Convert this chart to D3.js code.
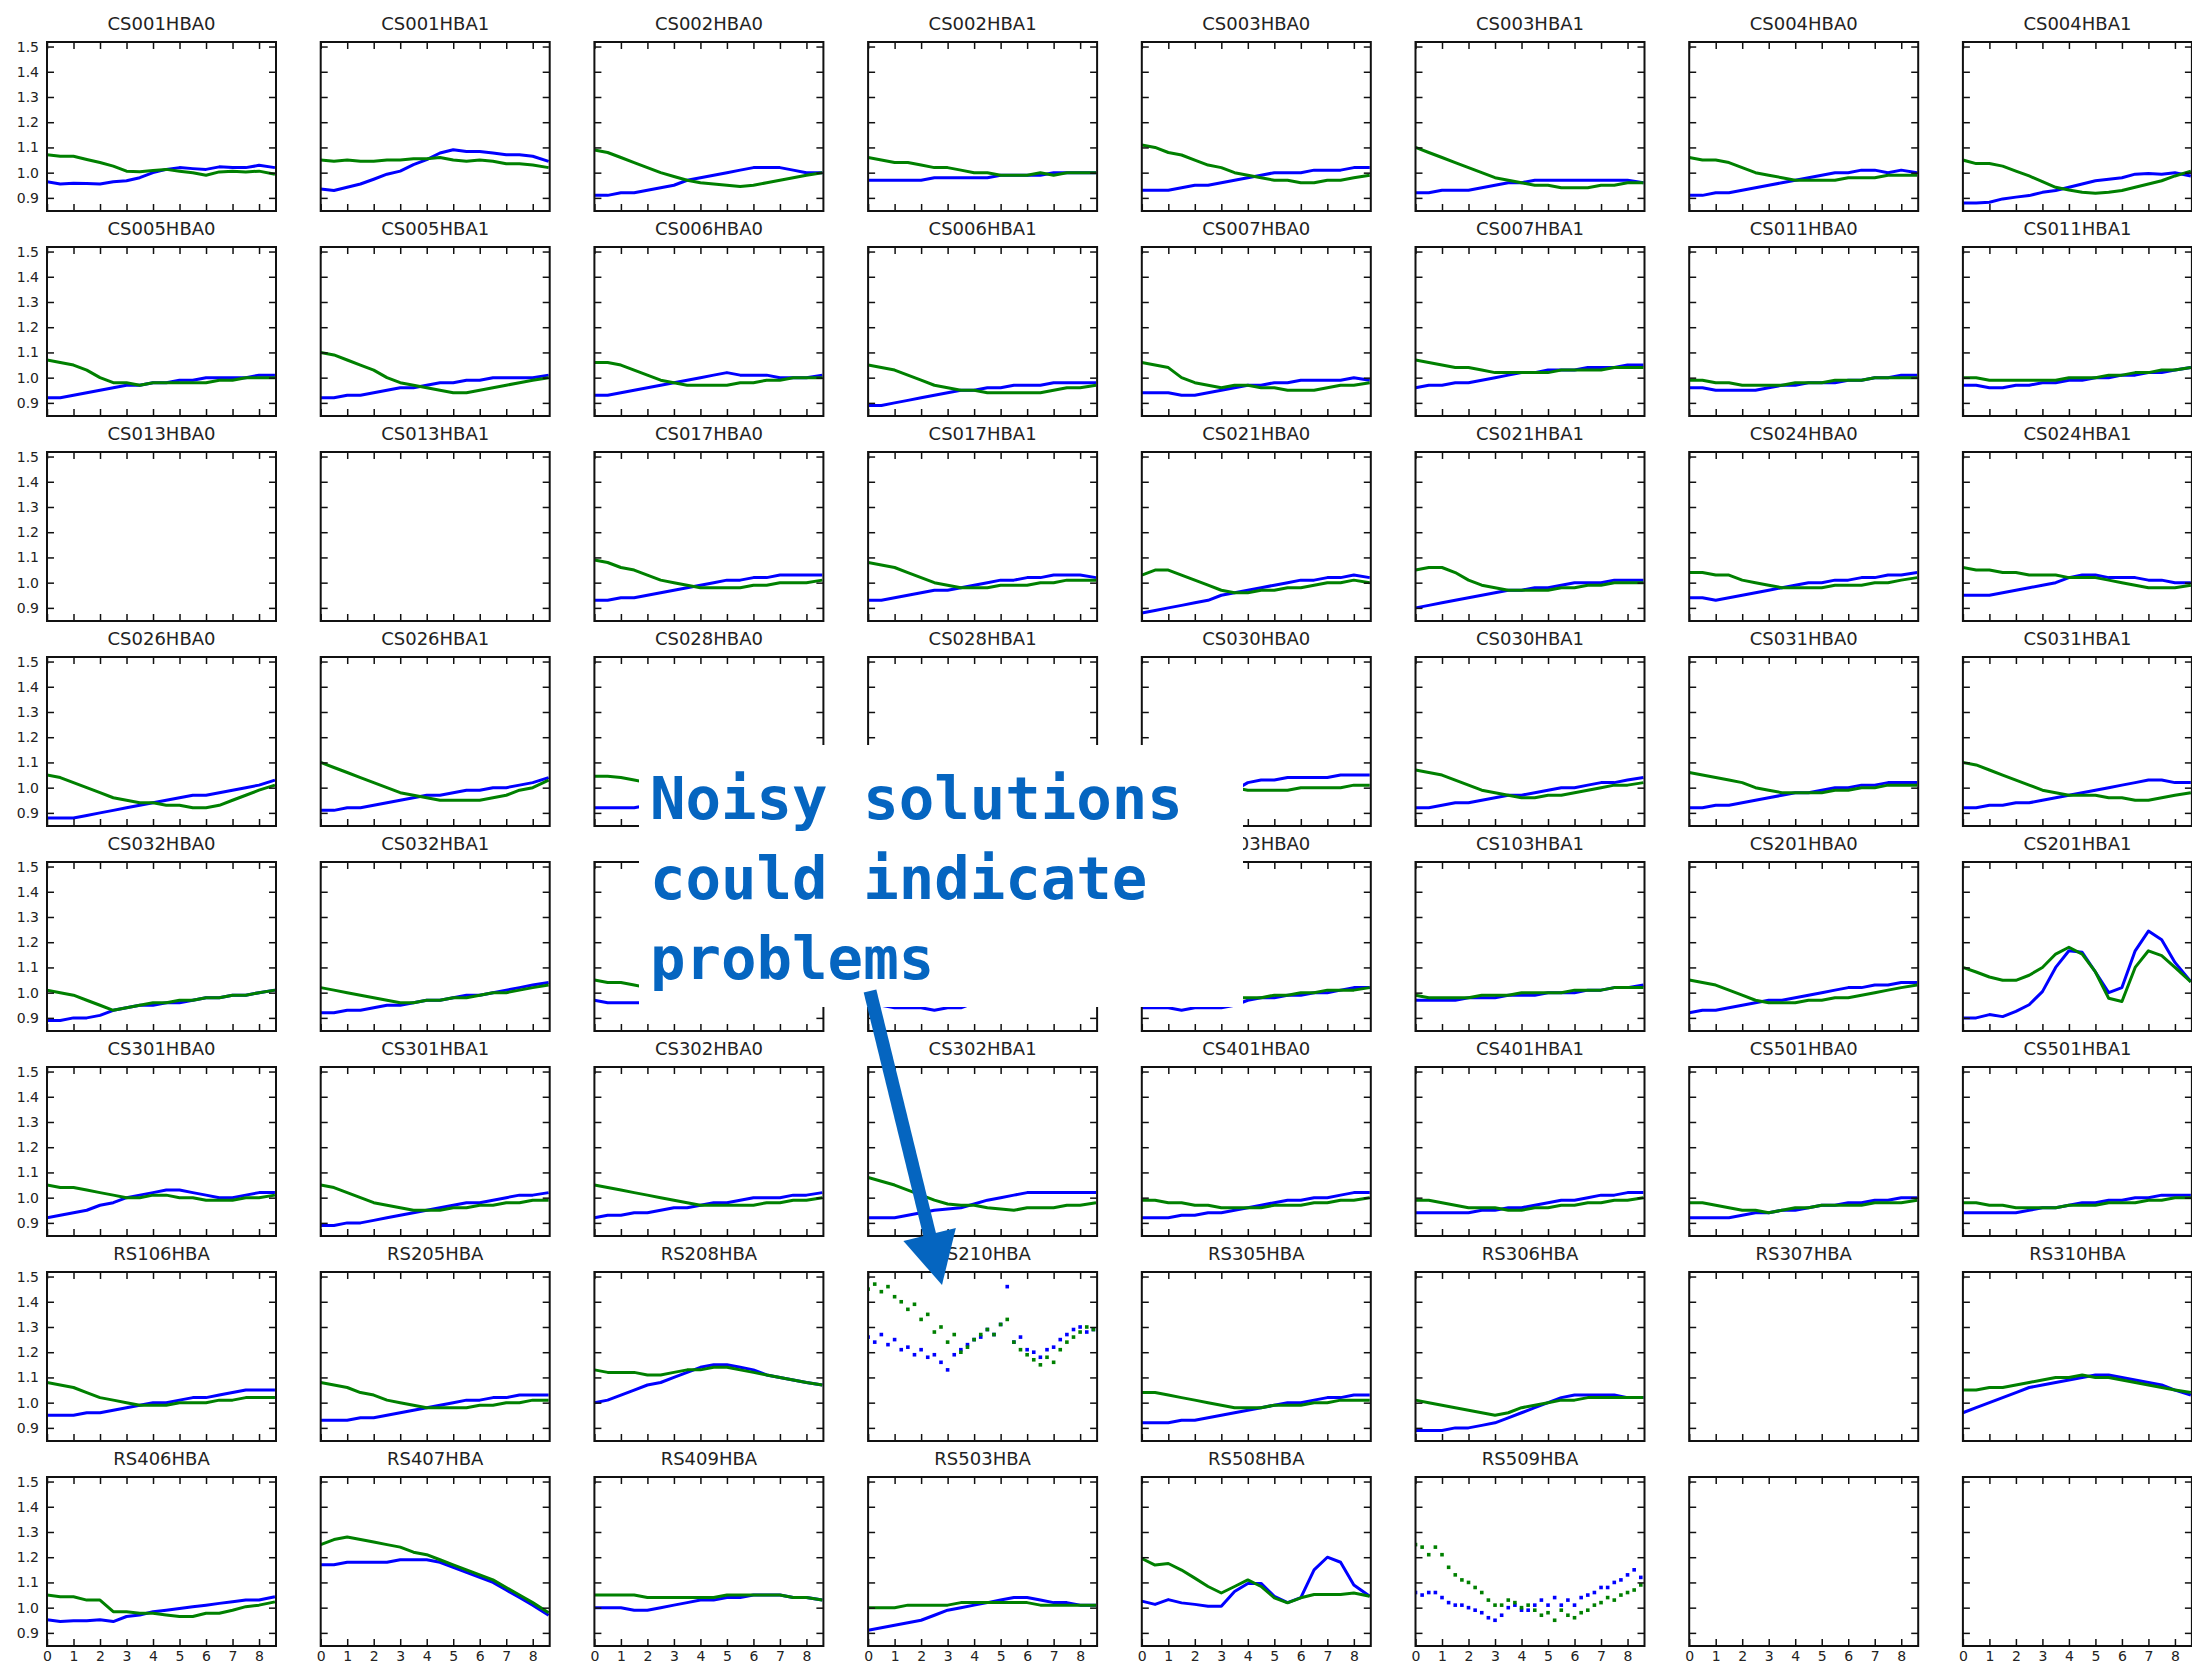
<!DOCTYPE html>
<html>
<head>
<meta charset="utf-8">
<script src="https://cdn.jsdelivr.net/npm/d3@7"></script>
<style>
  html, body { margin: 0; padding: 0; background: #fff; }
  svg { display: block; }
</style>
</head>
<body>
<svg id="chart" width="2192" height="1672"></svg>
<script>
// ---- sample times (hours) ----
const hours = [0, 0.5, 1, 1.5, 2, 2.5, 3, 3.5, 4, 4.5, 5, 5.5, 6, 6.5, 7, 7.5, 8, 8.6];
const hoursFine = [0, 0.25, 0.5, 0.75, 1, 1.25, 1.5, 1.75, 2, 2.25, 2.5, 2.75, 3, 3.25, 3.5, 3.75, 4, 4.25,
                   4.5, 4.75, 5, 5.25, 5.5, 5.75, 6, 6.25, 6.5, 6.75, 7, 7.25, 7.5, 7.75, 8, 8.25, 8.5];

// ---- tick labels ----
const xTicks = [0, 1, 2, 3, 4, 5, 6, 7, 8];
const yTicks = [0.9, 1.0, 1.1, 1.2, 1.3, 1.4, 1.5];

// ---- station layout, row by row (blank = unused slot) ----
const stationGrid = [
  "CS001HBA0", "CS001HBA1", "CS002HBA0", "CS002HBA1", "CS003HBA0", "CS003HBA1", "CS004HBA0", "CS004HBA1",
  "CS005HBA0", "CS005HBA1", "CS006HBA0", "CS006HBA1", "CS007HBA0", "CS007HBA1", "CS011HBA0", "CS011HBA1",
  "CS013HBA0", "CS013HBA1", "CS017HBA0", "CS017HBA1", "CS021HBA0", "CS021HBA1", "CS024HBA0", "CS024HBA1",
  "CS026HBA0", "CS026HBA1", "CS028HBA0", "CS028HBA1", "CS030HBA0", "CS030HBA1", "CS031HBA0", "CS031HBA1",
  "CS032HBA0", "CS032HBA1", "CS101HBA0", "CS101HBA1", "CS103HBA0", "CS103HBA1", "CS201HBA0", "CS201HBA1",
  "CS301HBA0", "CS301HBA1", "CS302HBA0", "CS302HBA1", "CS401HBA0", "CS401HBA1", "CS501HBA0", "CS501HBA1",
  "RS106HBA", "RS205HBA", "RS208HBA", "RS210HBA", "RS305HBA", "RS306HBA", "RS307HBA", "RS310HBA",
  "RS406HBA", "RS407HBA", "RS409HBA", "RS503HBA", "RS508HBA", "RS509HBA", "", ""
];

// stations whose solutions are scattered rather than smooth
const scatterStations = ["RS210HBA", "RS509HBA"];

// ---- gain amplitudes: _XX (blue) and _YY (green) ----
const CS001HBA0_XX = [0.964,0.955,0.958,0.957,0.955,0.964,0.968,0.98,1.0,1.013,1.02,1.016,1.013,1.023,1.02,1.02,1.029,1.02];
const CS001HBA0_YY = [1.071,1.065,1.065,1.052,1.04,1.026,1.006,1.004,1.009,1.013,1.006,1.0,0.99,1.003,1.006,1.003,1.006,0.994];
const CS001HBA1_XX = [0.935,0.929,0.942,0.955,0.974,0.994,1.006,1.032,1.052,1.078,1.091,1.084,1.084,1.078,1.071,1.071,1.065,1.045];
const CS001HBA1_YY = [1.05,1.045,1.05,1.045,1.045,1.05,1.05,1.055,1.055,1.06,1.05,1.045,1.05,1.045,1.035,1.035,1.03,1.02];
const CS002HBA0_XX = [0.91,0.91,0.92,0.92,0.93,0.94,0.95,0.97,0.98,0.99,1.0,1.01,1.02,1.02,1.02,1.01,1.0,1.0];
const CS002HBA0_YY = [1.09,1.08,1.06,1.04,1.02,1.0,0.985,0.97,0.96,0.955,0.95,0.945,0.95,0.96,0.97,0.98,0.99,1.0];
const CS002HBA1_XX = [0.97,0.97,0.97,0.97,0.97,0.98,0.98,0.98,0.98,0.98,0.99,0.99,0.99,0.99,1.0,1.0,1.0,1.0];
const CS002HBA1_YY = [1.06,1.05,1.04,1.04,1.03,1.02,1.02,1.01,1.0,1.0,0.99,0.99,0.99,1.0,0.99,1.0,1.0,1.0];
const CS003HBA0_XX = [0.93,0.93,0.93,0.94,0.95,0.95,0.96,0.97,0.98,0.99,1.0,1.0,1.0,1.01,1.01,1.01,1.02,1.02];
const CS003HBA0_YY = [1.11,1.10,1.08,1.07,1.05,1.03,1.02,1.0,0.99,0.98,0.97,0.97,0.96,0.96,0.97,0.97,0.98,0.99];
const CS003HBA1_XX = [0.92,0.92,0.93,0.93,0.93,0.94,0.95,0.96,0.96,0.97,0.97,0.97,0.97,0.97,0.97,0.97,0.97,0.96];
const CS003HBA1_YY = [1.10,1.08,1.06,1.04,1.02,1.0,0.98,0.97,0.96,0.95,0.95,0.94,0.94,0.94,0.95,0.95,0.96,0.96];
const CS004HBA0_XX = [0.91,0.91,0.92,0.92,0.93,0.94,0.95,0.96,0.97,0.98,0.99,1.0,1.0,1.01,1.01,1.0,1.01,1.0];
const CS004HBA0_YY = [1.06,1.05,1.05,1.04,1.02,1.0,0.99,0.98,0.97,0.97,0.97,0.97,0.98,0.98,0.98,0.99,0.99,0.99];
const CS004HBA1_XX = [0.88,0.88,0.883,0.896,0.903,0.909,0.922,0.929,0.942,0.955,0.968,0.974,0.98,0.994,0.997,0.994,1.0,0.987];
const CS004HBA1_YY = [1.05,1.036,1.036,1.026,1.006,0.987,0.964,0.942,0.931,0.922,0.918,0.922,0.929,0.942,0.955,0.968,0.987,1.006];

const CS005HBA0_XX = [0.92,0.92,0.93,0.94,0.95,0.96,0.97,0.97,0.98,0.98,0.99,0.99,1.0,1.0,1.0,1.0,1.01,1.01];
const CS005HBA0_YY = [1.07,1.06,1.05,1.03,1.0,0.98,0.98,0.97,0.98,0.98,0.98,0.98,0.98,0.99,0.99,1.0,1.0,1.0];
const CS005HBA1_XX = [0.92,0.92,0.93,0.93,0.94,0.95,0.96,0.96,0.97,0.98,0.98,0.99,0.99,1.0,1.0,1.0,1.0,1.01];
const CS005HBA1_YY = [1.10,1.09,1.07,1.05,1.03,1.0,0.98,0.97,0.96,0.95,0.94,0.94,0.95,0.96,0.97,0.98,0.99,1.0];
const CS006HBA0_XX = [0.93,0.93,0.94,0.95,0.96,0.97,0.98,0.99,1.0,1.01,1.02,1.01,1.01,1.01,1.0,1.0,1.0,1.01];
const CS006HBA0_YY = [1.06,1.06,1.05,1.03,1.01,0.99,0.98,0.97,0.97,0.97,0.97,0.98,0.98,0.99,0.99,1.0,1.0,1.0];
const CS006HBA1_XX = [0.89,0.89,0.90,0.91,0.92,0.93,0.94,0.95,0.95,0.96,0.96,0.97,0.97,0.97,0.98,0.98,0.98,0.98];
const CS006HBA1_YY = [1.05,1.04,1.03,1.01,0.99,0.97,0.96,0.95,0.95,0.94,0.94,0.94,0.94,0.94,0.95,0.96,0.96,0.97];
const CS007HBA0_XX = [0.94,0.94,0.94,0.93,0.93,0.94,0.95,0.96,0.97,0.97,0.98,0.98,0.99,0.99,0.99,0.99,1.0,0.99];
const CS007HBA0_YY = [1.06,1.05,1.04,1.0,0.98,0.97,0.96,0.97,0.97,0.96,0.96,0.95,0.95,0.95,0.96,0.97,0.97,0.98];
const CS007HBA1_XX = [0.96,0.97,0.97,0.98,0.98,0.99,1.0,1.01,1.02,1.02,1.03,1.03,1.03,1.04,1.04,1.04,1.05,1.05];
const CS007HBA1_YY = [1.07,1.06,1.05,1.04,1.04,1.03,1.02,1.02,1.02,1.02,1.02,1.03,1.03,1.03,1.03,1.04,1.04,1.04];
const CS011HBA0_XX = [0.96,0.96,0.95,0.95,0.95,0.95,0.96,0.97,0.97,0.98,0.98,0.98,0.99,0.99,1.0,1.0,1.01,1.01];
const CS011HBA0_YY = [0.99,0.99,0.98,0.98,0.97,0.97,0.97,0.97,0.98,0.98,0.98,0.99,0.99,0.99,1.0,1.0,1.0,1.0];
const CS011HBA1_XX = [0.97,0.97,0.96,0.96,0.97,0.97,0.98,0.98,0.99,0.99,1.0,1.0,1.01,1.01,1.02,1.02,1.03,1.04];
const CS011HBA1_YY = [1.0,1.0,0.99,0.99,0.99,0.99,0.99,0.99,1.0,1.0,1.0,1.01,1.01,1.02,1.02,1.03,1.03,1.04];

const CS017HBA0_XX = [0.93,0.93,0.94,0.94,0.95,0.96,0.97,0.98,0.99,1.0,1.01,1.01,1.02,1.02,1.03,1.03,1.03,1.03];
const CS017HBA0_YY = [1.09,1.08,1.06,1.05,1.03,1.01,1.0,0.99,0.98,0.98,0.98,0.98,0.99,0.99,1.0,1.0,1.0,1.01];
const CS017HBA1_XX = [0.93,0.93,0.94,0.95,0.96,0.97,0.97,0.98,0.99,1.0,1.01,1.01,1.02,1.02,1.03,1.03,1.03,1.02];
const CS017HBA1_YY = [1.08,1.07,1.06,1.04,1.02,1.0,0.99,0.98,0.98,0.98,0.99,0.99,0.99,1.0,1.0,1.01,1.01,1.01];
const CS021HBA0_XX = [0.88,0.89,0.90,0.91,0.92,0.93,0.95,0.96,0.97,0.98,0.99,1.0,1.01,1.01,1.02,1.02,1.03,1.02];
const CS021HBA0_YY = [1.03,1.05,1.05,1.03,1.01,0.99,0.97,0.96,0.96,0.97,0.97,0.98,0.98,0.99,1.0,1.0,1.01,1.0];
const CS021HBA1_XX = [0.90,0.91,0.92,0.93,0.94,0.95,0.96,0.97,0.97,0.98,0.98,0.99,1.0,1.0,1.0,1.01,1.01,1.01];
const CS021HBA1_YY = [1.05,1.06,1.06,1.04,1.01,0.99,0.98,0.97,0.97,0.97,0.97,0.98,0.98,0.99,0.99,1.0,1.0,1.0];
const CS024HBA0_XX = [0.94,0.94,0.93,0.94,0.95,0.96,0.97,0.98,0.99,1.0,1.0,1.01,1.01,1.02,1.02,1.03,1.03,1.04];
const CS024HBA0_YY = [1.04,1.04,1.03,1.03,1.01,1.0,0.99,0.98,0.98,0.98,0.98,0.99,0.99,0.99,1.0,1.0,1.01,1.02];
const CS024HBA1_XX = [0.95,0.95,0.95,0.96,0.97,0.98,0.99,1.0,1.02,1.03,1.03,1.02,1.02,1.02,1.01,1.01,1.0,1.0];
const CS024HBA1_YY = [1.06,1.05,1.05,1.04,1.04,1.03,1.03,1.03,1.02,1.02,1.02,1.01,1.0,0.99,0.98,0.98,0.98,0.99];

const CS026HBA0_XX = [0.88,0.88,0.88,0.89,0.90,0.91,0.92,0.93,0.94,0.95,0.96,0.97,0.97,0.98,0.99,1.0,1.01,1.03];
const CS026HBA0_YY = [1.05,1.04,1.02,1.0,0.98,0.96,0.95,0.94,0.94,0.93,0.93,0.92,0.92,0.93,0.95,0.97,0.99,1.01];
const CS026HBA1_XX = [0.91,0.91,0.92,0.92,0.93,0.94,0.95,0.96,0.97,0.97,0.98,0.99,0.99,1.0,1.0,1.01,1.02,1.04];
const CS026HBA1_YY = [1.10,1.08,1.06,1.04,1.02,1.0,0.98,0.97,0.96,0.95,0.95,0.95,0.95,0.96,0.97,0.99,1.0,1.03];
const CS028HBA0_XX = [0.92,0.92,0.92,0.92,0.93,0.94,0.95,0.96,0.97,0.98,0.99,0.99,1.0,1.0,1.01,1.01,1.02,1.02];
const CS028HBA0_YY = [1.045,1.045,1.04,1.03,1.02,1.0,0.99,0.98,0.98,0.98,0.98,0.99,0.99,1.0,1.0,1.0,1.01,1.01];
const CS028HBA1_XX = [0.92,0.92,0.93,0.93,0.94,0.95,0.96,0.97,0.97,0.98,0.99,0.99,1.0,1.0,1.01,1.01,1.02,1.02];
const CS028HBA1_YY = [1.06,1.05,1.04,1.03,1.02,1.01,1.0,0.99,0.98,0.98,0.98,0.98,0.99,0.99,1.0,1.0,1.01,1.01];
const CS030HBA0_XX = [0.92,0.93,0.94,0.95,0.96,0.97,0.98,0.99,1.02,1.03,1.03,1.04,1.04,1.04,1.04,1.05,1.05,1.05];
const CS030HBA0_YY = [1.06,1.05,1.04,1.03,1.02,1.01,1.0,1.0,0.99,0.99,0.99,0.99,1.0,1.0,1.0,1.0,1.01,1.01];
const CS030HBA1_XX = [0.92,0.92,0.93,0.94,0.94,0.95,0.96,0.97,0.97,0.98,0.99,1.0,1.0,1.01,1.02,1.02,1.03,1.04];
const CS030HBA1_YY = [1.07,1.06,1.05,1.03,1.01,0.99,0.98,0.97,0.96,0.96,0.97,0.97,0.98,0.99,1.0,1.01,1.01,1.02];
const CS031HBA0_XX = [0.92,0.92,0.93,0.93,0.94,0.95,0.96,0.97,0.98,0.98,0.99,1.0,1.0,1.01,1.01,1.02,1.02,1.02];
const CS031HBA0_YY = [1.06,1.05,1.04,1.03,1.02,1.0,0.99,0.98,0.98,0.98,0.98,0.99,0.99,1.0,1.0,1.01,1.01,1.01];
const CS031HBA1_XX = [0.92,0.92,0.93,0.93,0.94,0.94,0.95,0.96,0.97,0.98,0.99,1.0,1.01,1.02,1.03,1.03,1.02,1.02];
const CS031HBA1_YY = [1.10,1.09,1.07,1.05,1.03,1.01,0.99,0.98,0.97,0.97,0.97,0.96,0.96,0.95,0.95,0.96,0.97,0.98];

const CS032HBA0_XX = [0.89,0.89,0.90,0.90,0.91,0.93,0.94,0.95,0.95,0.96,0.96,0.97,0.98,0.98,0.99,0.99,1.0,1.01];
const CS032HBA0_YY = [1.01,1.0,0.99,0.97,0.95,0.93,0.94,0.95,0.96,0.96,0.97,0.97,0.98,0.98,0.99,0.99,1.0,1.01];
const CS032HBA1_XX = [0.92,0.92,0.93,0.93,0.94,0.95,0.95,0.96,0.97,0.97,0.98,0.99,0.99,1.0,1.01,1.02,1.03,1.04];
const CS032HBA1_YY = [1.02,1.01,1.0,0.99,0.98,0.97,0.96,0.96,0.97,0.97,0.98,0.98,0.99,1.0,1.0,1.01,1.02,1.03];
const CS101HBA0_XX = [0.97,0.96,0.96,0.96,0.96,0.96,0.97,0.97,0.97,0.98,0.98,0.98,0.99,0.99,0.99,1.0,1.0,1.0];
const CS101HBA0_YY = [1.05,1.04,1.04,1.03,1.02,1.01,1.0,0.99,0.99,0.98,0.98,0.99,0.99,0.99,1.0,1.0,1.0,1.01];
const CS101HBA1_XX = [0.95,0.95,0.94,0.94,0.94,0.93,0.94,0.94,0.96,0.96,0.97,0.97,0.98,0.98,0.99,0.99,1.0,1.0];
const CS101HBA1_YY = [1.04,1.03,1.02,1.01,1.0,0.99,0.98,0.97,0.97,0.96,0.96,0.96,0.96,0.97,0.97,0.98,0.98,0.99];
const CS103HBA0_XX = [0.94,0.94,0.94,0.93,0.94,0.94,0.94,0.95,0.97,0.98,0.98,0.99,0.99,1.0,1.0,1.01,1.02,1.02];
const CS103HBA0_YY = [1.02,1.01,1.0,0.99,0.99,0.98,0.98,0.98,0.98,0.98,0.99,0.99,1.0,1.0,1.01,1.01,1.01,1.02];
const CS103HBA1_XX = [0.97,0.97,0.97,0.97,0.98,0.98,0.98,0.99,0.99,0.99,1.0,1.0,1.0,1.01,1.01,1.02,1.02,1.03];
const CS103HBA1_YY = [0.99,0.98,0.98,0.98,0.98,0.99,0.99,0.99,1.0,1.0,1.0,1.0,1.01,1.01,1.01,1.02,1.02,1.02];
const CS201HBA0_XX = [0.92,0.93,0.93,0.94,0.95,0.96,0.97,0.97,0.98,0.99,1.0,1.01,1.02,1.02,1.03,1.03,1.04,1.04];
const CS201HBA0_YY = [1.05,1.04,1.03,1.01,0.99,0.97,0.96,0.96,0.96,0.97,0.97,0.98,0.98,0.99,1.0,1.01,1.02,1.03];
const CS201HBA1_XX = [0.9,0.9,0.913,0.905,0.926,0.952,1.004,1.1,1.166,1.16,1.082,1.0,1.02,1.166,1.244,1.21,1.12,1.043];
const CS201HBA1_YY = [1.1,1.082,1.062,1.049,1.049,1.069,1.1,1.153,1.18,1.153,1.082,0.978,0.965,1.1,1.166,1.147,1.1,1.043];

const CS301HBA0_XX = [0.92,0.93,0.94,0.95,0.97,0.98,1.0,1.01,1.02,1.03,1.03,1.02,1.01,1.0,1.0,1.01,1.02,1.02];
const CS301HBA0_YY = [1.05,1.04,1.04,1.03,1.02,1.01,1.0,1.0,1.01,1.01,1.0,1.0,0.99,0.99,0.99,1.0,1.0,1.01];
const CS301HBA1_XX = [0.89,0.89,0.90,0.90,0.91,0.92,0.93,0.94,0.95,0.96,0.97,0.98,0.98,0.99,1.0,1.01,1.01,1.02];
const CS301HBA1_YY = [1.05,1.04,1.02,1.0,0.98,0.97,0.96,0.95,0.95,0.95,0.96,0.96,0.97,0.97,0.98,0.98,0.99,0.99];
const CS302HBA0_XX = [0.92,0.93,0.93,0.94,0.94,0.95,0.96,0.96,0.97,0.98,0.98,0.99,1.0,1.0,1.0,1.01,1.01,1.02];
const CS302HBA0_YY = [1.05,1.04,1.03,1.02,1.01,1.0,0.99,0.98,0.97,0.97,0.97,0.97,0.97,0.98,0.98,0.99,0.99,1.0];
const CS302HBA1_XX = [0.92,0.92,0.92,0.93,0.94,0.95,0.955,0.96,0.975,0.99,1.0,1.01,1.02,1.02,1.02,1.02,1.02,1.02];
const CS302HBA1_YY = [1.08,1.065,1.05,1.03,1.01,0.99,0.975,0.97,0.97,0.96,0.955,0.95,0.96,0.96,0.96,0.97,0.97,0.98];
const CS401HBA0_XX = [0.92,0.92,0.92,0.93,0.93,0.94,0.94,0.95,0.96,0.97,0.98,0.99,0.99,1.0,1.0,1.01,1.02,1.02];
const CS401HBA0_YY = [0.99,0.99,0.98,0.98,0.97,0.97,0.96,0.96,0.96,0.96,0.97,0.97,0.97,0.98,0.98,0.99,0.99,1.0];
const CS401HBA1_XX = [0.94,0.94,0.94,0.94,0.94,0.95,0.95,0.96,0.96,0.97,0.98,0.99,0.99,1.0,1.01,1.01,1.02,1.02];
const CS401HBA1_YY = [0.99,0.99,0.98,0.97,0.96,0.96,0.96,0.95,0.95,0.96,0.96,0.97,0.97,0.98,0.98,0.99,0.99,1.0];
const CS501HBA0_XX = [0.92,0.92,0.92,0.92,0.93,0.94,0.94,0.95,0.95,0.96,0.97,0.97,0.98,0.98,0.99,0.99,1.0,1.0];
const CS501HBA0_YY = [0.98,0.98,0.97,0.96,0.95,0.95,0.94,0.95,0.96,0.96,0.97,0.97,0.97,0.97,0.98,0.98,0.98,0.99];
const CS501HBA1_XX = [0.94,0.94,0.94,0.94,0.94,0.95,0.96,0.96,0.97,0.98,0.98,0.99,0.99,1.0,1.0,1.01,1.01,1.01];
const CS501HBA1_YY = [0.98,0.98,0.97,0.97,0.96,0.96,0.96,0.96,0.97,0.97,0.97,0.98,0.98,0.98,0.99,0.99,1.0,1.0];

const RS106HBA_XX = [0.95,0.95,0.95,0.96,0.96,0.97,0.98,0.99,1.0,1.0,1.01,1.02,1.02,1.03,1.04,1.05,1.05,1.05];
const RS106HBA_YY = [1.08,1.07,1.06,1.04,1.02,1.01,1.0,0.99,0.99,0.99,1.0,1.0,1.0,1.01,1.01,1.02,1.02,1.02];
const RS205HBA_XX = [0.93,0.93,0.93,0.94,0.94,0.95,0.96,0.97,0.98,0.99,1.0,1.01,1.01,1.02,1.02,1.03,1.03,1.03];
const RS205HBA_YY = [1.08,1.07,1.06,1.04,1.03,1.01,1.0,0.99,0.98,0.98,0.98,0.98,0.99,0.99,1.0,1.0,1.01,1.01];
const RS208HBA_XX = [1.0,1.01,1.03,1.05,1.07,1.08,1.1,1.12,1.14,1.15,1.15,1.14,1.13,1.11,1.1,1.09,1.08,1.07];
const RS208HBA_YY = [1.13,1.12,1.12,1.12,1.11,1.11,1.12,1.13,1.13,1.14,1.14,1.13,1.12,1.11,1.1,1.09,1.08,1.07];
const RS210HBA_XX = [1.26,1.24,1.27,1.23,1.25,1.21,1.22,1.19,1.21,1.18,1.19,1.16,1.13,1.19,1.21,1.23,1.25,1.26,
                     1.29,1.27,1.31,1.46,1.24,1.26,1.21,1.20,1.18,1.21,1.22,1.25,1.27,1.29,1.30,1.28,1.29];
const RS210HBA_YY = [1.45,1.47,1.44,1.46,1.42,1.40,1.37,1.39,1.33,1.35,1.28,1.30,1.24,1.27,1.20,1.22,1.25,1.27,
                     1.29,1.27,1.31,1.33,1.24,1.21,1.19,1.17,1.15,1.18,1.16,1.21,1.24,1.26,1.28,1.30,1.29];
const RS305HBA_XX = [0.92,0.92,0.92,0.93,0.93,0.94,0.95,0.96,0.97,0.98,0.99,1.0,1.0,1.01,1.02,1.02,1.03,1.03];
const RS305HBA_YY = [1.04,1.04,1.03,1.02,1.01,1.0,0.99,0.98,0.98,0.98,0.99,0.99,0.99,1.0,1.0,1.01,1.01,1.01];
const RS306HBA_XX = [0.89,0.89,0.89,0.90,0.90,0.91,0.92,0.94,0.96,0.98,1.0,1.02,1.03,1.03,1.03,1.03,1.02,1.02];
const RS306HBA_YY = [1.01,1.0,0.99,0.98,0.97,0.96,0.95,0.96,0.98,0.99,1.0,1.01,1.01,1.02,1.02,1.02,1.02,1.02];
const RS310HBA_XX = [0.96,0.98,1.0,1.02,1.04,1.06,1.07,1.08,1.09,1.1,1.11,1.11,1.1,1.09,1.08,1.07,1.05,1.03];
const RS310HBA_YY = [1.05,1.05,1.06,1.06,1.07,1.08,1.09,1.1,1.1,1.11,1.1,1.1,1.09,1.08,1.07,1.06,1.05,1.04];

const RS406HBA_XX = [0.952,0.945,0.948,0.948,0.952,0.945,0.965,0.971,0.984,0.99,0.997,1.004,1.01,1.017,1.023,1.03,1.03,1.043];
const RS406HBA_YY = [1.05,1.043,1.043,1.03,1.03,0.984,0.984,0.978,0.978,0.971,0.965,0.965,0.978,0.978,0.99,1.004,1.01,1.023];
const RS407HBA_XX = [1.17,1.17,1.18,1.18,1.18,1.18,1.19,1.19,1.19,1.18,1.16,1.14,1.12,1.1,1.07,1.04,1.01,0.97];
const RS407HBA_YY = [1.25,1.27,1.28,1.27,1.26,1.25,1.24,1.22,1.21,1.19,1.17,1.15,1.13,1.11,1.08,1.05,1.02,0.98];
const RS409HBA_XX = [1.0,1.0,1.0,0.99,0.99,1.0,1.01,1.02,1.03,1.03,1.04,1.04,1.05,1.05,1.05,1.04,1.04,1.03];
const RS409HBA_YY = [1.05,1.05,1.05,1.05,1.04,1.04,1.04,1.04,1.04,1.04,1.05,1.05,1.05,1.05,1.05,1.04,1.04,1.03];
const RS503HBA_XX = [0.91,0.92,0.93,0.94,0.95,0.97,0.99,1.0,1.01,1.02,1.03,1.04,1.04,1.03,1.02,1.02,1.01,1.01];
const RS503HBA_YY = [1.0,1.0,1.0,1.01,1.01,1.01,1.01,1.02,1.02,1.02,1.02,1.02,1.02,1.01,1.01,1.01,1.01,1.01];
const RS508HBA_XX = [1.026,1.013,1.032,1.019,1.013,1.006,1.006,1.064,1.096,1.096,1.045,1.02,1.04,1.15,1.2,1.18,1.09,1.045];
const RS508HBA_YY = [1.195,1.169,1.175,1.149,1.117,1.084,1.058,1.084,1.11,1.084,1.039,1.019,1.039,1.052,1.052,1.052,1.058,1.045];
const RS509HBA_XX = [1.06,1.05,1.06,1.06,1.04,1.02,1.01,1.01,1.0,0.99,0.98,0.96,0.95,0.97,1.0,1.01,0.99,0.99,
                     1.01,1.03,1.01,1.04,1.01,1.03,1.01,1.04,1.05,1.06,1.08,1.08,1.1,1.11,1.13,1.15,1.12];
const RS509HBA_YY = [1.25,1.24,1.21,1.24,1.21,1.16,1.13,1.11,1.10,1.08,1.06,1.03,1.01,1.01,1.03,1.02,1.0,1.01,
                     0.99,0.97,0.98,0.95,0.99,0.97,0.96,0.98,0.99,1.01,1.02,1.04,1.03,1.05,1.06,1.07,1.09];

// station -> [XX, YY]; stations without solutions are absent
const gains = {
  CS001HBA0: [CS001HBA0_XX, CS001HBA0_YY], CS001HBA1: [CS001HBA1_XX, CS001HBA1_YY],
  CS002HBA0: [CS002HBA0_XX, CS002HBA0_YY], CS002HBA1: [CS002HBA1_XX, CS002HBA1_YY],
  CS003HBA0: [CS003HBA0_XX, CS003HBA0_YY], CS003HBA1: [CS003HBA1_XX, CS003HBA1_YY],
  CS004HBA0: [CS004HBA0_XX, CS004HBA0_YY], CS004HBA1: [CS004HBA1_XX, CS004HBA1_YY],
  CS005HBA0: [CS005HBA0_XX, CS005HBA0_YY], CS005HBA1: [CS005HBA1_XX, CS005HBA1_YY],
  CS006HBA0: [CS006HBA0_XX, CS006HBA0_YY], CS006HBA1: [CS006HBA1_XX, CS006HBA1_YY],
  CS007HBA0: [CS007HBA0_XX, CS007HBA0_YY], CS007HBA1: [CS007HBA1_XX, CS007HBA1_YY],
  CS011HBA0: [CS011HBA0_XX, CS011HBA0_YY], CS011HBA1: [CS011HBA1_XX, CS011HBA1_YY],
  CS017HBA0: [CS017HBA0_XX, CS017HBA0_YY], CS017HBA1: [CS017HBA1_XX, CS017HBA1_YY],
  CS021HBA0: [CS021HBA0_XX, CS021HBA0_YY], CS021HBA1: [CS021HBA1_XX, CS021HBA1_YY],
  CS024HBA0: [CS024HBA0_XX, CS024HBA0_YY], CS024HBA1: [CS024HBA1_XX, CS024HBA1_YY],
  CS026HBA0: [CS026HBA0_XX, CS026HBA0_YY], CS026HBA1: [CS026HBA1_XX, CS026HBA1_YY],
  CS028HBA0: [CS028HBA0_XX, CS028HBA0_YY], CS028HBA1: [CS028HBA1_XX, CS028HBA1_YY],
  CS030HBA0: [CS030HBA0_XX, CS030HBA0_YY], CS030HBA1: [CS030HBA1_XX, CS030HBA1_YY],
  CS031HBA0: [CS031HBA0_XX, CS031HBA0_YY], CS031HBA1: [CS031HBA1_XX, CS031HBA1_YY],
  CS032HBA0: [CS032HBA0_XX, CS032HBA0_YY], CS032HBA1: [CS032HBA1_XX, CS032HBA1_YY],
  CS101HBA0: [CS101HBA0_XX, CS101HBA0_YY], CS101HBA1: [CS101HBA1_XX, CS101HBA1_YY],
  CS103HBA0: [CS103HBA0_XX, CS103HBA0_YY], CS103HBA1: [CS103HBA1_XX, CS103HBA1_YY],
  CS201HBA0: [CS201HBA0_XX, CS201HBA0_YY], CS201HBA1: [CS201HBA1_XX, CS201HBA1_YY],
  CS301HBA0: [CS301HBA0_XX, CS301HBA0_YY], CS301HBA1: [CS301HBA1_XX, CS301HBA1_YY],
  CS302HBA0: [CS302HBA0_XX, CS302HBA0_YY], CS302HBA1: [CS302HBA1_XX, CS302HBA1_YY],
  CS401HBA0: [CS401HBA0_XX, CS401HBA0_YY], CS401HBA1: [CS401HBA1_XX, CS401HBA1_YY],
  CS501HBA0: [CS501HBA0_XX, CS501HBA0_YY], CS501HBA1: [CS501HBA1_XX, CS501HBA1_YY],
  RS106HBA: [RS106HBA_XX, RS106HBA_YY], RS205HBA: [RS205HBA_XX, RS205HBA_YY],
  RS208HBA: [RS208HBA_XX, RS208HBA_YY], RS210HBA: [RS210HBA_XX, RS210HBA_YY],
  RS305HBA: [RS305HBA_XX, RS305HBA_YY], RS306HBA: [RS306HBA_XX, RS306HBA_YY],
  RS310HBA: [RS310HBA_XX, RS310HBA_YY],
  RS406HBA: [RS406HBA_XX, RS406HBA_YY], RS407HBA: [RS407HBA_XX, RS407HBA_YY],
  RS409HBA: [RS409HBA_XX, RS409HBA_YY], RS503HBA: [RS503HBA_XX, RS503HBA_YY],
  RS508HBA: [RS508HBA_XX, RS508HBA_YY], RS509HBA: [RS509HBA_XX, RS509HBA_YY]
};

const noteLines = ["Noisy solutions", "could indicate", "problems"];

// ---- layout ----
const NCOLS = 8;
const gridLeft = 47, gridTop = 42;
const colStep = 273.7, rowStep = 205;
const panelW = 229, panelH = 169;
const polColors = ["#0000ff", "#008000"];
const noteBlue = "#0565c0";
const noteBox = { x: 639, y: 745, w: 604, h: 262 };

const svg = d3.select("#chart");
svg.append("rect").attr("width", 2192).attr("height", 1672).attr("fill", "#fff");

const x = d3.scaleLinear().domain([0, 8.64]).range([0, panelW]);
const y = d3.scaleLinear().domain([0.848, 1.518]).range([panelH, 0]);

const defs = svg.append("defs");
defs.append("clipPath").attr("id", "panel-clip")
  .append("rect").attr("width", panelW).attr("height", panelH);

const line = d3.line().x(d => x(d[0])).y(d => y(d[1]));
const nRows = Math.ceil(stationGrid.length / NCOLS);

// true when a box lies entirely under the call-out (its label would never be seen)
const hiddenByNote = (bx, by, bw, bh) =>
  bx >= noteBox.x && by >= noteBox.y &&
  bx + bw <= noteBox.x + noteBox.w && by + bh <= noteBox.y + noteBox.h;

stationGrid.forEach((name, i) => {
  const r = Math.floor(i / NCOLS), c = i % NCOLS;
  const ox = gridLeft + c * colStep, oy = gridTop + r * rowStep;
  const g = svg.append("g").attr("transform", `translate(${ox},${oy})`);

  if (name) {
    const t = g.append("text")
      .attr("x", panelW / 2).attr("y", -12)
      .attr("text-anchor", "middle")
      .attr("font-family", "'DejaVu Sans', sans-serif")
      .attr("font-size", 18)
      .attr("fill", "#222")
      .text(name);
    const bb = t.node().getBBox();
    if (hiddenByNote(ox + bb.x, oy + bb.y, bb.width, bb.height)) t.remove();
  }

  const series = gains[name];
  if (series) {
    const plot = g.append("g").attr("clip-path", "url(#panel-clip)");
    const scatter = scatterStations.includes(name);
    series.forEach((vals, k) => {
      const t = vals.length === hoursFine.length ? hoursFine : hours;
      const pts = vals.map((v, j) => [t[j], v]);
      if (scatter) {
        plot.selectAll(null).data(pts).enter().append("rect")
          .attr("x", d => x(d[0]) - 1.8).attr("y", d => y(d[1]) - 1.8)
          .attr("width", 3.6).attr("height", 3.6)
          .attr("fill", polColors[k]);
      } else {
        plot.append("path").datum(pts)
          .attr("d", line).attr("fill", "none")
          .attr("stroke", polColors[k]).attr("stroke-width", 3)
          .attr("stroke-linejoin", "round");
      }
    });
  }

  // inward ticks on all four sides
  const tickStyle = sel => {
    sel.select(".domain").remove();
    sel.selectAll(".tick line").attr("stroke", "#111").attr("stroke-width", 1.5);
    sel.selectAll(".tick text")
      .attr("font-family", "'DejaVu Sans', sans-serif")
      .attr("font-size", 14).attr("fill", "#222");
  };
  g.append("g")
    .call(d3.axisLeft(y).tickValues(yTicks).tickSize(-7).tickPadding(8)
      .tickFormat(c === 0 ? d3.format(".1f") : () => ""))
    .call(tickStyle);
  g.append("g").attr("transform", `translate(${panelW},0)`)
    .call(d3.axisRight(y).tickValues(yTicks).tickSize(-7).tickFormat(() => ""))
    .call(tickStyle);
  g.append("g")
    .call(d3.axisTop(x).tickValues(xTicks).tickSize(-7).tickFormat(() => ""))
    .call(tickStyle);
  g.append("g").attr("transform", `translate(0,${panelH})`)
    .call(d3.axisBottom(x).tickValues(xTicks).tickSize(-7).tickPadding(5)
      .tickFormat(r === nRows - 1 ? d3.format("d") : () => ""))
    .call(tickStyle);

  g.append("rect")
    .attr("width", panelW).attr("height", panelH)
    .attr("fill", "none").attr("stroke", "#111").attr("stroke-width", 2);
});

// ---- call-out ----
const note = svg.append("g");
note.append("rect")
  .attr("x", noteBox.x).attr("y", noteBox.y).attr("width", noteBox.w).attr("height", noteBox.h)
  .attr("fill", "#fff");
note.selectAll("text").data(noteLines).enter().append("text")
  .attr("x", 650).attr("y", (d, i) => 819 + i * 80)
  .attr("font-family", "'DejaVu Sans Mono', monospace")
  .attr("font-weight", "bold")
  .attr("font-size", 59)
  .attr("fill", noteBlue)
  .text(d => d);

// arrow pointing at the RS210HBA panel
const tail = [870, 991], tip = [942, 1285];
const dx = tip[0] - tail[0], dy = tip[1] - tail[1];
const len = Math.hypot(dx, dy), ux = dx / len, uy = dy / len;
const headLen = 52, headHalf = 27;
const base = [tip[0] - ux * headLen, tip[1] - uy * headLen];
note.append("line")
  .attr("x1", tail[0]).attr("y1", tail[1])
  .attr("x2", base[0] + ux * 2).attr("y2", base[1] + uy * 2)
  .attr("stroke", noteBlue).attr("stroke-width", 13);
note.append("polygon")
  .attr("points", [
    tip,
    [base[0] + uy * headHalf, base[1] - ux * headHalf],
    [base[0] - uy * headHalf, base[1] + ux * headHalf]
  ].map(p => p.join(",")).join(" "))
  .attr("fill", noteBlue);
</script>
</body>
</html>
